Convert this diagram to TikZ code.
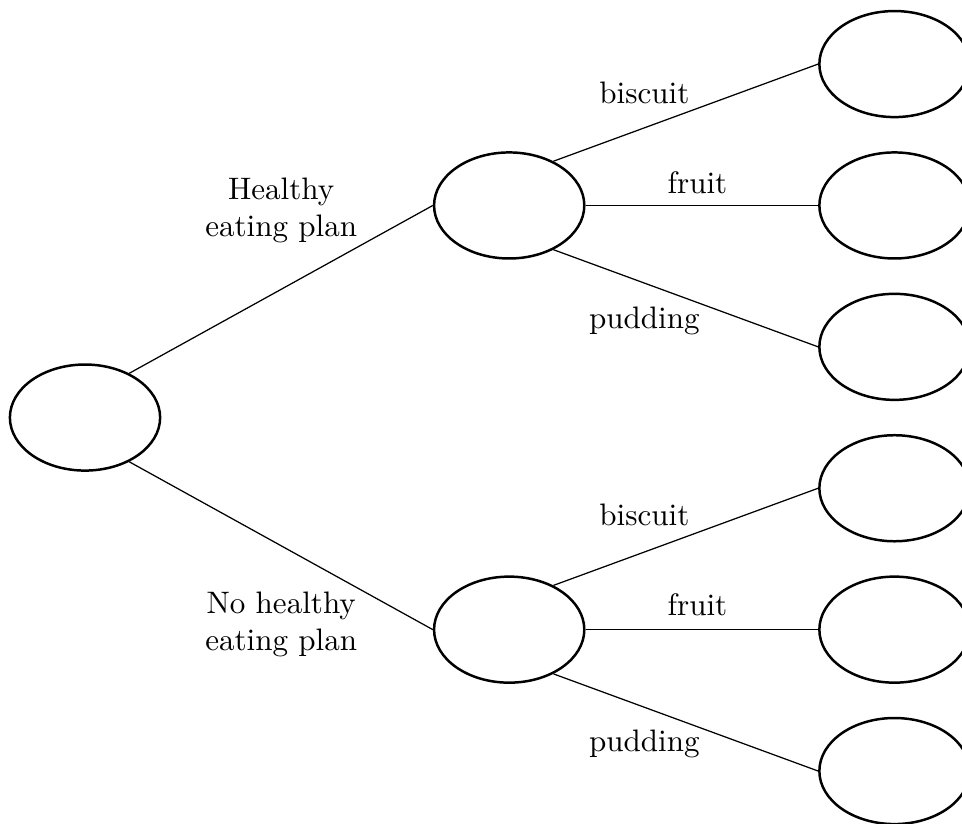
\documentclass[tikz,border=0pt]{standalone}
\usepackage{tikz}
\usetikzlibrary{shapes,positioning}

\begin{document}
\begin{tikzpicture}[
    ellnode/.style={draw,ellipse,thick,minimum width=1.7cm,minimum height=1.2cm},
    lbl/.style={align=center}
    ]

    \clip (-0.962,-4.589) rectangle (9.924,4.725);

    \node (r) [ellnode] at (0,0) {};
    \node (m1) [ellnode] at (4.8,2.4) {};
    \node (m2) [ellnode] at (4.8,-2.4) {};
    \node (l1) [ellnode] at (9.16,4.0) {};
    \node (l2) [ellnode] at (9.16,2.4) {};
    \node (l3) [ellnode] at (9.16,0.8) {};
    \node (l4) [ellnode] at (9.16,-0.8) {};
    \node (l5) [ellnode] at (9.16,-2.4) {};
    \node (l6) [ellnode] at (9.16,-4.0) {};

    % the labels
    \node (hp) [lbl] at (2.22,2.34) {Healthy\\eating plan};
    \node (nhp) [lbl] at (2.22,-2.34) {No healthy\\eating plan};
    \node (b1) at (6.33,3.67) {biscuit};
    \node (f1) at (6.93,2.66) {fruit};
    \node (p1) at (6.33,1.09) {pudding};
    \node (b2) at (6.33,-1.10) {biscuit};
    \node (f2) at (6.93,-2.12) {fruit};
    \node (p2) at (6.33,-3.69) {pudding};

    % the edges
    \draw (r.45) -- (m1.west);
    \draw (r.-45) -- (m2.west);
    \draw (m1.45) -- (l1.west);
    \draw (m1.east) -- (l2.west);
    \draw (m1.-45) -- (l3.west);
    \draw (m2.45) -- (l4.west);
    \draw (m2.east) -- (l5.west);
    \draw (m2.-45) -- (l6.west);
\end{tikzpicture}
\end{document}
